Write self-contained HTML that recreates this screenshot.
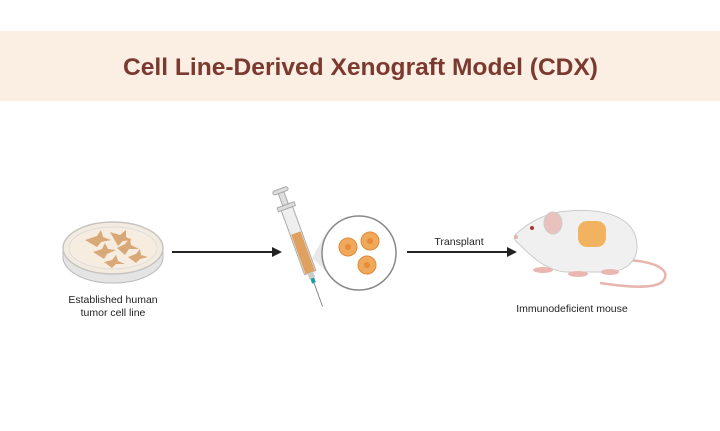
<!DOCTYPE html>
<html><head><meta charset="utf-8"><style>
html,body{margin:0;padding:0;background:#fff;width:720px;height:431px;overflow:hidden}
</style></head><body>
<svg width="720" height="431" viewBox="0 0 720 431" xmlns="http://www.w3.org/2000/svg" font-family="Liberation Sans, sans-serif">
<rect x="0" y="0" width="720" height="431" fill="#fff"/>
<rect x="0" y="31" width="720" height="70" fill="#fbeee3"/>
<text x="123" y="75" textLength="475" lengthAdjust="spacingAndGlyphs" font-size="24" font-weight="bold" fill="#7b3a30">Cell Line-Derived Xenograft Model (CDX)</text>

<!-- petri dish -->
<ellipse cx="113" cy="257" rx="50" ry="26" fill="#ececec" stroke="#bcbcbc"/>
<path d="M63 250 L63 257 A50 26 0 0 0 163 257 L163 250" fill="#e4e4e4" stroke="#bcbcbc"/>
<ellipse cx="113" cy="248" rx="50" ry="26" fill="#f4ebe0" stroke="#c4c4c4" stroke-width="1.5"/>
<ellipse cx="113" cy="248" rx="44" ry="21" fill="#f6ece0" stroke="#ddd"/>
<g fill="#d9a877">
<path d="M85 240 l12 -4 l4 -6 l2 7 l8 3 l-10 2 l-4 5z"/>
<path d="M110 232 l10 3 l6 -5 l0 7 l6 3 l-9 1 l-5 5z"/>
<path d="M93 252 l9 -3 l3 -6 l3 6 l8 1 l-9 4 l-3 5z"/>
<path d="M117 248 l8 -4 l5 -6 l1 7 l8 4 l-10 0 l-4 6z"/>
<path d="M104 262 l8 -2 l4 -5 l2 6 l7 3 l-9 0 l-4 4z"/>
<path d="M128 257 l8 -3 l4 -5 l1 6 l7 2 l-8 2 l-4 4z"/>
</g>
<text x="113" y="303" text-anchor="middle" font-size="10.5" fill="#222">Established human</text>
<text x="113" y="316" text-anchor="middle" font-size="10.5" fill="#222">tumor cell line</text>

<!-- arrow 1 -->
<line x1="172" y1="252" x2="274" y2="252" stroke="#222" stroke-width="2"/>
<path d="M282 252 l-10 -5 v10z" fill="#222"/>

<!-- syringe -->
<g transform="rotate(-20 302 250)">
<rect x="299" y="188" width="6" height="14" fill="#ddd" stroke="#aaa"/>
<rect x="294" y="185" width="16" height="4" rx="2" fill="#ddd" stroke="#aaa"/>
<rect x="293" y="202" width="18" height="4" fill="#ddd" stroke="#aaa"/>
<rect x="296" y="206" width="12" height="68" fill="#eee" stroke="#aaa"/>
<rect x="297" y="232" width="10" height="42" fill="#e0a060"/>
<rect x="299" y="274" width="6" height="6" fill="#ccc"/>
<rect x="300" y="280" width="4" height="5" fill="#1f9aa0"/>
<line x1="302" y1="285" x2="302" y2="310" stroke="#888" stroke-width="1"/>
</g>
<path d="M312 258 L325 235 L330 275z" fill="#e9e9e9"/>
<circle cx="359" cy="253" r="37" fill="#fff" stroke="#888" stroke-width="1.5"/>
<g fill="#f0a85a" stroke="#e08a3a">
<circle cx="348" cy="247" r="9"/><circle cx="370" cy="241" r="9"/><circle cx="367" cy="265" r="9"/>
</g>
<g fill="#e88a3a"><circle cx="348" cy="247" r="3"/><circle cx="370" cy="241" r="3"/><circle cx="367" cy="265" r="3"/></g>

<!-- arrow 2 -->
<line x1="407" y1="252" x2="509" y2="252" stroke="#222" stroke-width="2"/>
<path d="M517 252 l-10 -5 v10z" fill="#222"/>
<text x="459" y="245" text-anchor="middle" font-size="10.5" fill="#222">Transplant</text>

<!-- mouse -->
<path d="M627 260 C660 262 672 272 662 282 C652 290 620 286 600 283" fill="none" stroke="#e6b5ae" stroke-width="2.5"/>
<path d="M515 235 C525 225 545 212 568 211 C600 208 630 215 636 238 C640 255 632 270 610 272 L565 272 C545 270 530 255 520 245 C515 241 513 238 515 235z" fill="#f0f0f0" stroke="#ccc"/>
<ellipse cx="553" cy="223" rx="9" ry="11" fill="#e9c2bd" stroke="#ccc"/>
<circle cx="532" cy="228" r="2" fill="#a33"/>
<circle cx="516" cy="237" r="2" fill="#e6b5ae"/>
<rect x="578" y="221" width="28" height="26" rx="9" fill="#f2b360"/>
<g fill="#e9b7b0"><ellipse cx="543" cy="270" rx="10" ry="3"/><ellipse cx="578" cy="274" rx="10" ry="3"/><ellipse cx="610" cy="272" rx="9" ry="3"/></g>
<text x="572" y="312" text-anchor="middle" font-size="10.5" fill="#222">Immunodeficient mouse</text>
</svg>
</body></html>
